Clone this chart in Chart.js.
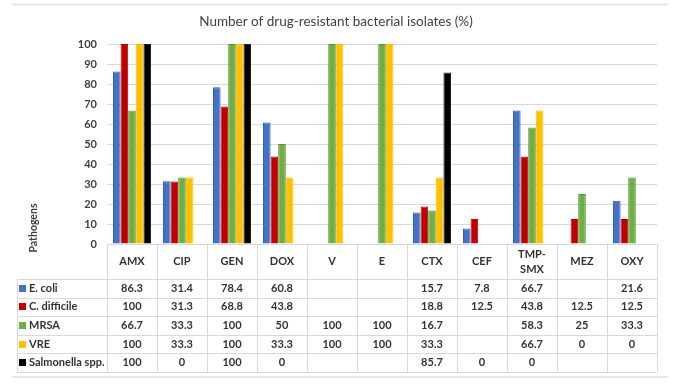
<!DOCTYPE html>
<html><head><meta charset="utf-8">
<script src="https://cdn.jsdelivr.net/npm/chart.js@4/dist/chart.umd.min.js"></script>
<style>html,body{margin:0;padding:0;background:#fff}#wrap{width:690px;height:385px;position:relative}</style>
</head><body><div id="wrap"><canvas id="c" width="690" height="385"></canvas></div>
<script>
const categories = ['AMX','CIP','GEN','DOX','V','E','CTX','CEF','TMP-SMX','MEZ','OXY'];
const headerLines = [['AMX'],['CIP'],['GEN'],['DOX'],['V'],['E'],['CTX'],['CEF'],['TMP-','SMX'],['MEZ'],['OXY']];
const seriesNames = ['E. coli','C. difficile','MRSA','VRE','Salmonella spp.'];
const eColi      = [86.3, 31.4, 78.4, 60.8, null, null, 15.7, 7.8, 66.7, null, 21.6];
const cDifficile = [100, 31.3, 68.8, 43.8, null, null, 18.8, 12.5, 43.8, 12.5, 12.5];
const mrsa       = [66.7, 33.3, 100, 50, 100, 100, 16.7, null, 58.3, 25, 33.3];
const vre        = [100, 33.3, 100, 33.3, 100, 100, 33.3, null, 66.7, 0, 0];
const salmonella = [100, 0, 100, 0, null, null, 85.7, 0, 0, null, null];
const yTicks = [0,10,20,30,40,50,60,70,80,90,100];
const titleText = 'Number of drug-resistant bacterial isolates (%)';
const yAxisTitle = 'Pathogens';

const fills = ['#4472C4','#C00000','#70AD47','#FFC000','#000000'];
const borders = ['#2F62C2','#B80000','#4F9A2A','#FFC000','#222222'];
const seriesData = [eColi, cDifficile, mrsa, vre, salmonella];
const FONT = 'Lato, "Open Sans", sans-serif';

const tablePlugin = {
  id: 'tablePlugin',
  afterDraw(chart) {
    const ctx = chart.ctx;
    const xs = chart.scales.x;
    const ca = chart.chartArea;
    const n = categories.length;
    const cw = (ca.right - ca.left) / n;
    const top = ca.bottom;
    const headerBottom = top + 35;
    const rowH = 18.6;
    const tableLeft = 17;
    const tableBottom = headerBottom + rowH * seriesNames.length;
    ctx.save();
    ctx.strokeStyle = '#E6E6E6';
    ctx.lineWidth = 2;
    ctx.beginPath(); ctx.moveTo(12, 4.5); ctx.lineTo(668, 4.5); ctx.stroke();
    ctx.beginPath(); ctx.moveTo(12, 377); ctx.lineTo(668, 377); ctx.stroke();
    ctx.fillStyle = '#404040';
    ctx.font = '13.5px ' + FONT;
    ctx.textAlign = 'center'; ctx.textBaseline = 'middle';
    ctx.fillText(titleText, 336, 22);
    ctx.save();
    ctx.translate(34, 228);
    ctx.rotate(-Math.PI / 2);
    ctx.font = 'bold 10.5px ' + FONT;
    ctx.fillStyle = '#404040';
    ctx.fillText(yAxisTitle, 0, 0);
    ctx.restore();
    ctx.strokeStyle = '#D9D9D9';
    ctx.lineWidth = 1;
    ctx.beginPath();
    for (let i = 0; i <= n; i++) {
      const x = Math.round(ca.left + i * cw) + 0.5;
      ctx.moveTo(x, top); ctx.lineTo(x, tableBottom);
    }
    ctx.moveTo(tableLeft + 0.5, headerBottom); ctx.lineTo(tableLeft + 0.5, tableBottom);
    for (let r = 0; r <= seriesNames.length; r++) {
      const y = Math.round(headerBottom + r * rowH) + 0.5;
      ctx.moveTo(tableLeft, y); ctx.lineTo(ca.right, y);
    }
    ctx.stroke();
    ctx.fillStyle = '#333333';
    ctx.font = 'bold 11px ' + FONT;
    ctx.textAlign = 'center'; ctx.textBaseline = 'middle';
    for (let i = 0; i < n; i++) {
      const cx = xs.getPixelForValue(i);
      const lines = headerLines[i];
      const midY = (top + headerBottom) / 2;
      lines.forEach((t, k) => {
        const y = midY + (k - (lines.length - 1) / 2) * 15;
        ctx.fillText(t, cx, y);
      });
    }
    for (let r = 0; r < seriesNames.length; r++) {
      const cy = headerBottom + (r + 0.5) * rowH;
      ctx.fillStyle = fills[r];
      ctx.fillRect(19, Math.round(cy - 3.5), 7, 7);
      ctx.fillStyle = '#333333';
      ctx.textAlign = 'left';
      ctx.fillText(seriesNames[r], 29, cy);
      ctx.textAlign = 'center';
      const arr = seriesData[r];
      for (let i = 0; i < n; i++) {
        if (arr[i] === null) continue;
        ctx.fillText(String(arr[i]), xs.getPixelForValue(i), cy);
      }
    }
    ctx.restore();
  }
};

new Chart(document.getElementById('c'), {
  type: 'bar',
  data: {
    labels: categories,
    datasets: seriesNames.map((name, i) => ({
      label: name,
      data: seriesData[i],
      backgroundColor: fills[i],
      borderColor: borders[i],
      borderWidth: 1,
      barPercentage: 1.0,
      categoryPercentage: 0.76
    }))
  },
  options: {
    responsive: false,
    animation: false,
    devicePixelRatio: 1,
    layout: { padding: { top: 44, bottom: 141, left: 0, right: 33 } },
    plugins: { legend: { display: false }, title: { display: false }, tooltip: { enabled: false } },
    scales: {
      x: { display: false },
      y: {
        min: 0, max: 100,
        afterFit(s) { s.width = 107; },
        afterBuildTicks(s) { s.ticks = yTicks.map(v => ({ value: v })); },
        ticks: { padding: 10, color: '#404040', font: { family: FONT, size: 11, weight: 'bold' } },
        grid: { color: '#D9D9D9', drawTicks: false },
        border: { display: false }
      }
    }
  },
  plugins: [tablePlugin]
});
</script>
</body></html>
